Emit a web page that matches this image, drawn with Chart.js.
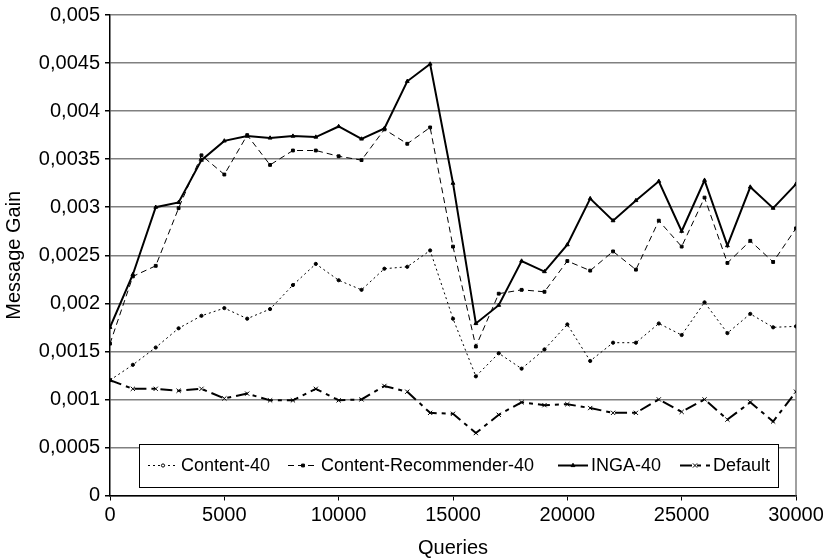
<!DOCTYPE html>
<html>
<head>
<meta charset="utf-8">
<script src="https://cdn.jsdelivr.net/npm/chart.js@4/dist/chart.umd.min.js"></script>
<style>
  html, body { margin: 0; padding: 0; background: #fff; }
  #wrap { width: 823px; height: 560px; position: relative; }
</style>
</head>
<body>
<div id="wrap"><canvas id="chart" width="823" height="560"></canvas></div>
<script>
const queries = [0, 1000, 2000, 3000, 4000, 5000, 6000, 7000, 8000, 9000, 10000,
  11000, 12000, 13000, 14000, 15000, 16000, 17000, 18000, 19000, 20000,
  21000, 22000, 23000, 24000, 25000, 26000, 27000, 28000, 29000, 30000];

const content40 = [0.00120, 0.00136, 0.00154, 0.00174, 0.00187, 0.00195, 0.00184, 0.00194, 0.00219, 0.00241, 0.00224,
  0.00214, 0.00236, 0.00238, 0.00255, 0.00184, 0.00124, 0.00148, 0.00132, 0.00152, 0.00178,
  0.00140, 0.00159, 0.00159, 0.00179, 0.00167, 0.00201, 0.00169, 0.00189, 0.00175, 0.00176];

const contentRec40 = [0.00158, 0.00228, 0.00239, 0.00299, 0.00354, 0.00334, 0.00375, 0.00344, 0.00359, 0.00359, 0.00353,
  0.00349, 0.00381, 0.00366, 0.00383, 0.00259, 0.00155, 0.00210, 0.00214, 0.00212, 0.00244,
  0.00234, 0.00254, 0.00235, 0.00286, 0.00259, 0.00310, 0.00242, 0.00265, 0.00243, 0.00278];

const inga40 = [0.00175, 0.00230, 0.00300, 0.00305, 0.00349, 0.00369, 0.00374, 0.00372, 0.00374, 0.00373, 0.00384,
  0.00371, 0.00382, 0.00431, 0.00449, 0.00325, 0.00179, 0.00198, 0.00244, 0.00233, 0.00261,
  0.00309, 0.00286, 0.00307, 0.00327, 0.00275, 0.00328, 0.00260, 0.00321, 0.00299, 0.00324];

const defaultGain = [0.00120, 0.00111, 0.00111, 0.00109, 0.00111, 0.00101, 0.00106, 0.00099, 0.00099, 0.00111, 0.00099,
  0.00100, 0.00114, 0.00108, 0.00086, 0.00085, 0.00065, 0.00084, 0.00097, 0.00094, 0.00095,
  0.00091, 0.00086, 0.00086, 0.00100, 0.00087, 0.00100, 0.00079, 0.00097, 0.00077, 0.00108];

const seriesNames = ['Content-40', 'Content-Recommender-40', 'INGA-40', 'Default'];
const yTicks = [0, 0.0005, 0.001, 0.0015, 0.002, 0.0025, 0.003, 0.0035, 0.004, 0.0045, 0.005];

const FONT = '"Liberation Sans", Arial, Helvetica, sans-serif';

function toPoints(values) {
  return values.map((v, i) => ({ x: queries[i], y: v }));
}

function fmt(v) {
  return String(Number(v.toFixed(4))).replace('.', ',');
}

const styles = [
  { dash: [2, 3], width: 1, point: 'circle', radius: 1.6 },
  { dash: [6, 4], width: 1, point: 'rect', radius: 2 },
  { dash: [], width: 2, point: 'triangle', radius: 2.2 },
  { dash: [12, 5, 4, 5], width: 2, point: 'crossRot', radius: 3 }
];

const allValues = [content40, contentRec40, inga40, defaultGain];

const datasets = allValues.map((vals, i) => ({
  label: seriesNames[i],
  data: toPoints(vals),
  borderColor: '#000',
  backgroundColor: '#000',
  borderWidth: styles[i].width,
  borderDash: styles[i].dash,
  pointStyle: styles[i].point,
  pointRadius: styles[i].radius,
  pointBorderWidth: 1,
  pointBorderColor: '#000',
  pointBackgroundColor: '#000',
  tension: 0,
  fill: false
}));

// boxed legend sitting inside the plot area, like the original
const boxLegend = {
  id: 'boxLegend',
  afterDatasetsDraw(chart) {
    const ctx = chart.ctx;
    const box = { x: 139, y: 444, w: 639, h: 43 };
    const starts = [148, 288, 558, 680];
    ctx.save();
    ctx.fillStyle = '#fff';
    ctx.fillRect(box.x, box.y, box.w, box.h);
    ctx.strokeStyle = '#000';
    ctx.lineWidth = 1;
    ctx.strokeRect(box.x + 0.5, box.y + 0.5, box.w, box.h);
    const cy = box.y + box.h / 2;
    ctx.font = '18px ' + FONT;
    ctx.textBaseline = 'middle';
    seriesNames.forEach((name, i) => {
      const s = styles[i];
      const x0 = starts[i];
      ctx.strokeStyle = '#000';
      ctx.lineWidth = s.width;
      ctx.setLineDash(s.dash);
      ctx.beginPath();
      ctx.moveTo(x0, cy);
      ctx.lineTo(x0 + 30, cy);
      ctx.stroke();
      ctx.setLineDash([]);
      ctx.lineWidth = 1;
      Chart.helpers.drawPoint(ctx, { pointStyle: s.point, radius: s.radius, rotation: 0, borderWidth: 1 }, x0 + 15, cy);
      ctx.fillStyle = '#000';
      ctx.fillText(name, x0 + 33, cy + 1);
    });
    ctx.restore();
  }
};

// thin grey frame on the right side of the plot
const rightEdge = {
  id: 'rightEdge',
  beforeDatasetsDraw(chart) {
    const a = chart.chartArea;
    const ctx = chart.ctx;
    ctx.save();
    ctx.strokeStyle = '#808080';
    ctx.lineWidth = 1.5;
    ctx.beginPath();
    ctx.moveTo(a.right, a.top);
    ctx.lineTo(a.right, a.bottom);
    ctx.stroke();
    ctx.restore();
  }
};

new Chart(document.getElementById('chart'), {
  type: 'line',
  data: { datasets },
  plugins: [rightEdge, boxLegend],
  options: {
    responsive: false,
    animation: false,
    layout: { padding: { top: 15, right: 27, left: 0, bottom: 0 } },
    plugins: {
      legend: { display: false },
      tooltip: { enabled: false }
    },
    scales: {
      x: {
        type: 'linear',
        min: 0,
        max: 30000,
        afterFit(scale) {
          scale.height = 64.5;
          scale.paddingLeft = 0;
          scale.paddingRight = 0;
        },
        ticks: {
          stepSize: 5000,
          color: '#000',
          font: { size: 20, family: FONT },
          padding: 3,
          maxRotation: 0,
          callback: v => String(v)
        },
        grid: { drawOnChartArea: false, tickLength: 5, color: '#000' },
        border: { color: '#000', width: 1.5 },
        title: {
          display: true,
          text: 'Queries',
          color: '#000',
          font: { size: 20, family: FONT },
          padding: { top: 2, bottom: 0 }
        }
      },
      y: {
        min: 0,
        max: 0.005,
        afterFit(scale) {
          scale.width = 110;
          scale.paddingTop = 0;
          scale.paddingBottom = 0;
        },
        afterBuildTicks(scale) { scale.ticks = yTicks.map(v => ({ value: v })); },
        ticks: {
          color: '#000',
          font: { size: 20, family: FONT },
          padding: 5,
          callback: v => fmt(v)
        },
        grid: {
          color: '#808080',
          lineWidth: 1.5,
          tickLength: 5,
          tickColor: '#000'
        },
        border: { color: '#000', width: 1.5 },
        title: {
          display: true,
          text: 'Message Gain',
          color: '#000',
          font: { size: 20, family: FONT },
          padding: { top: 2, bottom: 4 }
        }
      }
    }
  }
});
</script>
</body>
</html>
